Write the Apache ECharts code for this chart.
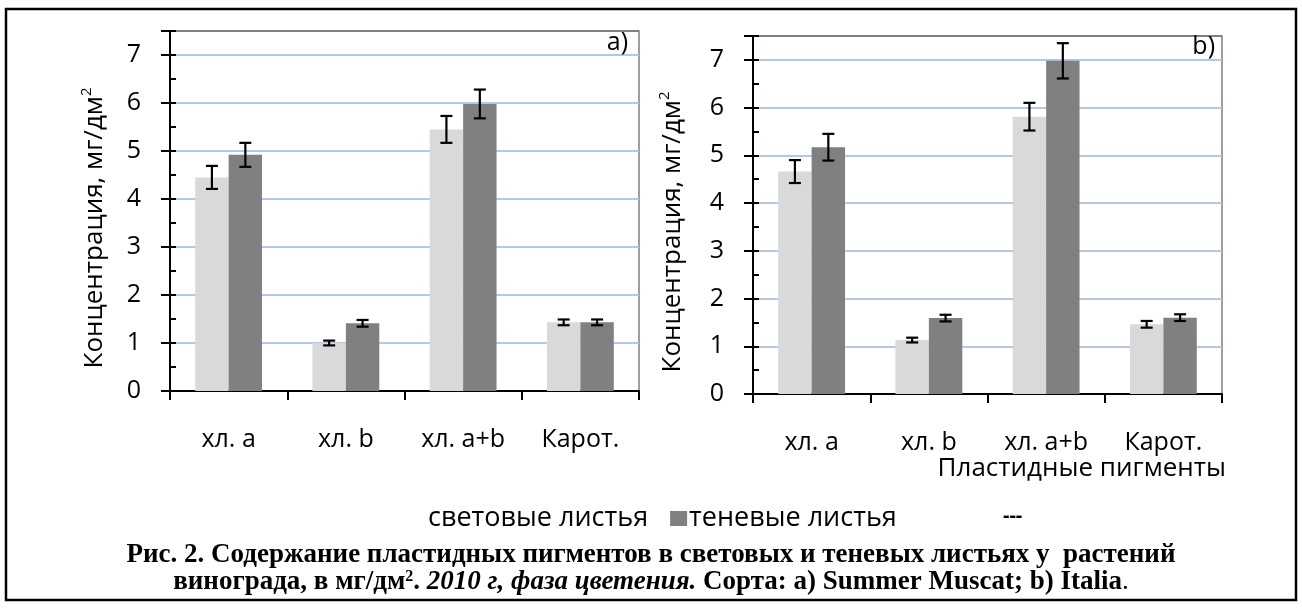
<!DOCTYPE html>
<html>
<head>
<meta charset="utf-8">
<script src="https://cdn.jsdelivr.net/npm/echarts@6/dist/echarts.min.js"></script>
<style>
html,body{margin:0;padding:0;background:#fff;}
#main{width:1302px;height:609px;}
</style>
</head>
<body>
<div id="main"></div>
<script>
// ---- data ----
var categories = ['хл. a', 'хл. b', 'хл. a+b', 'Карот.'];
var yTicks = [0, 1, 2, 3, 4, 5, 6, 7];
var seriesNames = ['световые листья', 'теневые листья'];
// panel a) Summer Muscat
var aLight = [4.45, 1.00, 5.45, 1.43];
var aLightErr = [0.24, 0.05, 0.28, 0.06];
var aShade = [4.92, 1.41, 5.98, 1.43];
var aShadeErr = [0.25, 0.07, 0.30, 0.06];
// panel b) Italia
var bLight = [4.66, 1.13, 5.81, 1.46];
var bLightErr = [0.24, 0.05, 0.29, 0.07];
var bShade = [5.17, 1.59, 6.98, 1.60];
var bShadeErr = [0.28, 0.07, 0.37, 0.07];

var FONT = 'Open Sans';
var GAP = 0.43;
var lightColor = '#d9d9d9', shadeColor = '#808080';
var gridBlue = '#b3c8e8';

function errData(vals, errs) {
  return vals.map(function (v, i) { return [i, v, errs[i]]; });
}
function errRender(sign) {
  return function (params, api) {
    var c = api.value(0), v = api.value(1), e = api.value(2);
    var band = api.size([1, 0])[0];
    var bw = band * (1 - GAP) / 2;
    var dx = sign * bw / 2;
    var top = api.coord([c, v + e]);
    var bot = api.coord([c, v - e]);
    var x = top[0] + dx;
    var cap = 6;
    var st = { stroke: '#000', lineWidth: 2.2 };
    return {
      type: 'group',
      children: [
        { type: 'line', shape: { x1: x, y1: top[1], x2: x, y2: bot[1] }, style: st },
        { type: 'line', shape: { x1: x - cap, y1: top[1], x2: x + cap, y2: top[1] }, style: st },
        { type: 'line', shape: { x1: x - cap, y1: bot[1], x2: x + cap, y2: bot[1] }, style: st }
      ]
    };
  };
}
function yMain(gi) {
  return {
    type: 'value', gridIndex: gi, min: 0, max: 7.5, interval: 1, position: 'left',
    axisLine: { show: true, lineStyle: { color: '#000', width: 2 } },
    axisTick: { show: true, length: 9, lineStyle: { color: '#000', width: 2 } },
    axisLabel: {
      margin: 29, fontFamily: FONT, fontSize: 25, color: '#000',
      formatter: function (v) { return yTicks.indexOf(v) >= 0 ? String(v) : ''; }
    },
    splitLine: { show: true, lineStyle: { color: [gridBlue, gridBlue, gridBlue, gridBlue, gridBlue, gridBlue, gridBlue, gridBlue, '#808080'], width: 2 } }
  };
}
function yMinor(gi) {
  return {
    type: 'value', gridIndex: gi, min: 0, max: 7.5, interval: 0.5, position: 'left', offset: 0,
    axisLine: { show: false },
    axisTick: { show: true, inside: true, length: 6, lineStyle: { color: '#000', width: 2 } },
    axisLabel: { show: false },
    splitLine: { show: false }
  };
}
function xAx(gi) {
  return {
    type: 'category', gridIndex: gi, data: categories, boundaryGap: true,
    axisLine: { show: true, lineStyle: { color: '#000', width: 2 } },
    axisTick: { show: true, length: 9, alignWithLabel: false, lineStyle: { color: '#000', width: 2 } },
    axisLabel: { margin: 36, fontFamily: FONT, fontSize: 25, color: '#000', interval: 0 }
  };
}
function bar(name, data, color, gi, yi) {
  return {
    name: name, type: 'bar', xAxisIndex: gi, yAxisIndex: yi, data: data,
    barGap: '0%', barCategoryGap: (GAP * 100) + '%',
    itemStyle: { color: color }, z: 2
  };
}
function err(data, errs, gi, yi, sign) {
  return {
    type: 'custom', xAxisIndex: gi, yAxisIndex: yi, data: errData(data, errs),
    renderItem: errRender(sign), encode: { x: 0, y: 1 }, z: 5, silent: true
  };
}

var chart = echarts.init(document.getElementById('main'), null, { renderer: 'canvas' });
var yName = '{a|Концентрация, мг/дм}{s|2}';
var yNameRich = {
  a: { fontFamily: FONT, fontSize: 26, fill: '#000', lineHeight: 32 },
  s: { fontFamily: FONT, fontSize: 15, fill: '#000', verticalAlign: 'top', lineHeight: 32 }
};
var CAP = 27;
var capRich = {
  b: { fontFamily: 'Liberation Serif', fontWeight: 'bold', fontSize: CAP, fill: '#000' },
  bi: { fontFamily: 'Liberation Serif', fontWeight: 'bold', fontStyle: 'italic', fontSize: CAP, fill: '#000' },
  n: { fontFamily: 'Liberation Serif', fontSize: CAP, fill: '#000' },
  s: { fontFamily: 'Liberation Serif', fontWeight: 'bold', fontSize: 16, fill: '#000', verticalAlign: 'top' }
};

chart.setOption({
  animation: false,
  backgroundColor: '#fff',
  grid: [
    { left: 170, right: 663, top: 31, bottom: 218, show: true, borderColor: '#808080', borderWidth: 1.5, containLabel: false },
    { left: 753, right: 80, top: 36, bottom: 215, show: true, borderColor: '#808080', borderWidth: 1.5, containLabel: false }
  ],
  xAxis: [xAx(0), xAx(1)],
  yAxis: [yMain(0), yMinor(0), yMain(1), yMinor(1)],
  legend: {
    data: [
      { name: seriesNames[0], itemStyle: { opacity: 0 } },
      { name: seriesNames[1] }
    ],
    left: 404, top: 500, itemWidth: 17, itemHeight: 15, itemGap: 22,
    icon: 'rect',
    textStyle: { fontFamily: FONT, fontSize: 27, color: '#000', padding: [0, 0, 0, -3] }
  },
  series: [
    bar(seriesNames[0], aLight, lightColor, 0, 0),
    bar(seriesNames[1], aShade, shadeColor, 0, 0),
    bar(seriesNames[0], bLight, lightColor, 1, 2),
    bar(seriesNames[1], bShade, shadeColor, 1, 2),
    err(aLight, aLightErr, 0, 0, -1),
    err(aShade, aShadeErr, 0, 0, 1),
    err(bLight, bLightErr, 1, 2, -1),
    err(bShade, bShadeErr, 1, 2, 1)
  ],
  graphic: [
    { type: 'rect', shape: { x: 6, y: 9, width: 1290, height: 591 }, style: { fill: 'none', stroke: '#000', lineWidth: 2.5 }, z: 100 },
    { type: 'text', x: 95, y: 228, rotation: Math.PI / 2, style: { text: yName, rich: yNameRich, align: 'center', verticalAlign: 'middle' }, z: 50 },
    { type: 'text', x: 673, y: 232, rotation: Math.PI / 2, style: { text: yName, rich: yNameRich, align: 'center', verticalAlign: 'middle' }, z: 50 },
    { type: 'text', x: 628, y: 43, style: { text: 'a)', fontFamily: FONT, fontSize: 25, fill: '#000', align: 'right', verticalAlign: 'middle' }, z: 50 },
    { type: 'text', x: 1215, y: 47, style: { text: 'b)', fontFamily: FONT, fontSize: 25, fill: '#000', align: 'right', verticalAlign: 'middle' }, z: 50 },
    { type: 'text', x: 1226, y: 469, style: { text: 'Пластидные пигменты', fontFamily: FONT, fontSize: 26, fill: '#000', align: 'right', verticalAlign: 'middle' }, z: 50 },
    { type: 'text', x: 1003, y: 516, style: { text: '---', fontFamily: FONT, fontSize: 20, fontWeight: 'bold', fill: '#000', align: 'left', verticalAlign: 'middle' }, z: 50 },
    { type: 'text', x: 651, y: 555, style: { text: '{b|Рис. 2. Содержание пластидных пигментов в световых и теневых листьях у  растений}', rich: capRich, align: 'center', verticalAlign: 'middle' }, z: 50 },
    { type: 'text', x: 651, y: 582, style: { text: '{b|винограда, в мг/дм}{s|2}{b|. }{bi|2010 г, фаза цветения.}{b| Сорта: a) Summer Muscat; b) Italia}{n|.}', rich: capRich, align: 'center', verticalAlign: 'middle' }, z: 50 }
  ]
});
</script>
</body>
</html>
